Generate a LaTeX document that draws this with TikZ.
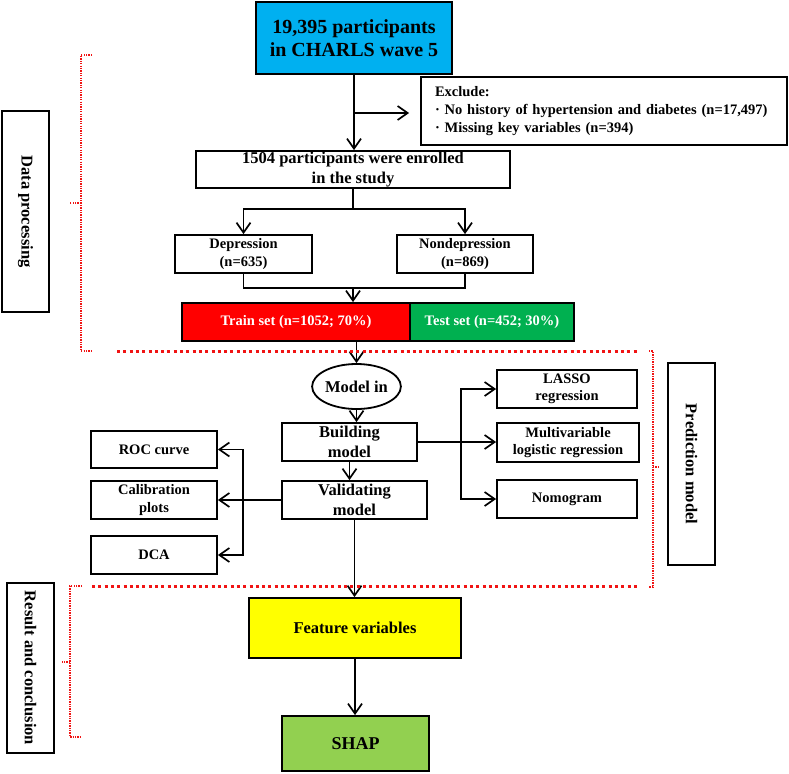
\documentclass[tikz,border=0pt]{standalone}
\usepackage{fontspec}
\setmainfont{Liberation Serif}
\usetikzlibrary{positioning, arrows.meta, shapes.geometric, calc}
\definecolor{headblue}{RGB}{0,176,240}
\definecolor{trainred}{RGB}{255,0,0}
\definecolor{testgreen}{RGB}{0,176,80}
\definecolor{featyellow}{RGB}{255,255,0}
\definecolor{shapgreen}{RGB}{146,208,80}
\definecolor{markred}{RGB}{240,20,20}

\begin{document}
\begin{tikzpicture}[
  x=1pt, y=-1pt,
  box/.style={draw, line width=1.8pt, align=center, inner sep=0pt, font=\fontsize{16.5}{20}\selectfont\bfseries},
  sbox/.style={box, font=\fontsize{14.5}{17.5}\selectfont\bfseries},
  side/.style={box, rotate=-90, minimum height=47pt},
  arr/.style={-{Straight Barb[length=10pt, width=14pt, line width=1.7pt]}, line width=1.7pt},
  ln/.style={line width=1.7pt},
  thinred/.style={markred, line width=1.5pt, dash pattern=on 1.3pt off 1.1pt},
  thickred/.style={markred, line width=3pt, dash pattern=on 3pt off 3.3pt},
]
  \useasboundingbox (0,0) rectangle (789,773);

  \node[box, fill=headblue, minimum width=196pt, minimum height=72pt, font=\fontsize{20}{23}\selectfont\bfseries] (top) at (354,38) {19,395 participants\\in CHARLS wave 5};
  \node[draw, line width=1.8pt, text width=338pt, inner xsep=14pt, inner ysep=0pt, minimum height=68pt, align=left, font=\fontsize{14.5}{18}\selectfont\bfseries] (excl) at (604,111) {Exclude:\\· No history of hypertension and diabetes (n=17,497)\\· Missing key variables (n=394)};
  \node[box, minimum width=314pt, minimum height=37pt] (enrol) at (353,169.5) {1504 participants were enrolled\\in the study};
  \node[sbox, minimum width=137pt, minimum height=38pt] (dep) at (243.5,254) {Depression\\(n=635)};
  \node[sbox, minimum width=136pt, minimum height=38pt] (nondep) at (465,254) {Nondepression\\(n=869)};
  \node[sbox, fill=trainred, text=white, minimum width=228pt, minimum height=38pt] (train) at (296,322) {Train set (n=1052; 70\%)};
  \node[sbox, fill=testgreen, text=white, minimum width=164pt, minimum height=38pt] (test) at (492,322) {Test set (n=452; 30\%)};

  \node[box, ellipse, minimum width=85pt, minimum height=45pt] (modelin) at (356.5,386.5) {Model in};
  \node[box, minimum width=135pt, minimum height=38pt] (build) at (349.5,442) {Building\\model};
  \node[box, minimum width=145pt, minimum height=38pt] (valid) at (354.5,500) {Validating\\model};
  \node[sbox, minimum width=140pt, minimum height=38pt] (lasso) at (567,389) {LASSO\\regression};
  \node[sbox, minimum width=142pt, minimum height=39pt] (multi) at (568,442.5) {Multivariable\\logistic regression};
  \node[sbox, minimum width=140pt, minimum height=38pt] (nomo) at (567,499) {Nomogram};
  \node[sbox, minimum width=126pt, minimum height=37pt] (roc) at (154,449.5) {ROC curve};
  \node[sbox, minimum width=126pt, minimum height=38pt] (calib) at (154,500) {Calibration\\plots};
  \node[sbox, minimum width=126pt, minimum height=38pt] (dca) at (154,555) {DCA};

  \node[box, fill=featyellow, minimum width=212pt, minimum height=60pt] (feat) at (355,628) {Feature variables};
  \node[box, fill=shapgreen, minimum width=147pt, minimum height=55pt, font=\fontsize{18}{20}\selectfont\bfseries] (shap) at (355.5,743.5) {SHAP};

  \node[side, minimum width=201pt] (dataproc) at (25.5,211.5) {Data processing};
  \node[side, minimum width=202pt] (predict) at (691.5,464) {Prediction model};
  \node[side, minimum width=170pt] (result) at (30.5,668) {Result and conclusion};

  \draw[arr] (top.south) -- (top.south |- enrol.north);
  \draw[arr, shorten >=11pt] (top.south |- 0,113) -- (excl.west |- 0,113);
  \draw[ln] (enrol.south) -- ++(0,20) coordinate (split);
  \draw[arr] (split) -| (dep.north);
  \draw[arr] (split) -| (nondep.north);
  \draw[ln] (dep.south) -- ++(0,14) coordinate (depdown) -| (nondep.south);
  \coordinate (merge) at (enrol.south |- depdown);
  \draw[arr] (merge) -- (merge |- train.north);
  \draw[arr] (modelin.north |- train.south) -- (modelin.north);
  \draw[arr] (modelin.south) -- (modelin.south |- build.north);
  \draw[arr] (build.south) -- (build.south |- valid.north);
  \draw[ln] (build.east) -- ++(43,0) coordinate (rj);
  \draw[arr] (rj) |- (lasso.west);
  \draw[arr] (rj) |- (nomo.west);
  \draw[arr] (rj) -- (rj -| multi.west);
  \draw[arr] (valid.west) -- (valid.west -| calib.east);
  \coordinate (lj) at ([xshift=-38pt]valid.west);
  \draw[arr] (lj) |- (roc.east);
  \draw[arr] (lj) |- (dca.east);
  \draw[arr] (valid.south) -- (valid.south |- feat.north);
  \draw[arr] (feat.south) -- (feat.south |- shap.north);

  \draw[thickred] (117,351) -- (637,351);
  \draw[thickred] (92,586) -- (637,586);
  \draw[thinred] (92,55) -- (81,55) -- (81,351) -- (92,351);
  \draw[thinred] (81,203) -- (70,203);
  \draw[thinred] (649,351) -- (653,351) -- (653,587) -- (649,587);
  \draw[thinred] (653,467) -- (658,467);
  \draw[thinred] (82,586) -- (70,586) -- (70,737) -- (82,737);
  \draw[thinred] (70,662) -- (61,662);
\end{tikzpicture}
\end{document}
